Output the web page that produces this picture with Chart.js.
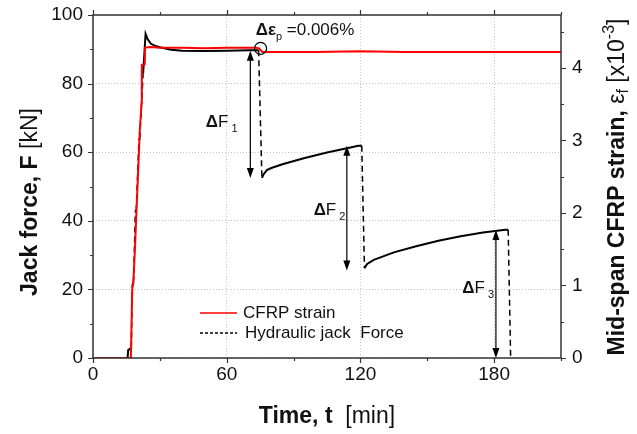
<!DOCTYPE html>
<html>
<head>
<meta charset="utf-8">
<script src="https://cdn.jsdelivr.net/npm/chart.js@4/dist/chart.umd.min.js"></script>
<style>
  html, body { margin: 0; padding: 0; background: #fff; }
  #wrap { width: 637px; height: 434px; }
</style>
</head>
<body>
<div id="wrap"><canvas id="c" width="637" height="434"></canvas></div>
<script>
// CFRP strain (right axis, x10^-3)
const strainTime = [0, 17.0, 17.6, 18.2, 18.8, 19.6, 20.3, 21.0, 21.8, 21.9, 23.2, 23.4, 26, 30, 40, 50, 60, 70, 73, 74.5, 76, 80, 100, 120, 140, 160, 180, 200, 210];
const strainVal = [0, 0, 0.94, 1.1, 1.49, 2.1, 2.6, 3.14, 3.52, 4.04, 4.05, 4.28, 4.29, 4.28, 4.28, 4.27, 4.28, 4.28, 4.28, 4.27, 4.22, 4.22, 4.22, 4.23, 4.22, 4.22, 4.22, 4.22, 4.22];

// Hydraulic jack force (left axis, kN)
const forceTime = [0, 15.5, 15.8, 17.2, 17.6, 18.2, 19, 19.4, 20.6, 21, 22.5, 23.6, 24.5, 26, 28, 30, 35, 40, 50, 60, 70, 74.3, 75.8, 76.6, 78, 80, 85, 95, 105, 115, 119, 120.6, 121.8, 123, 126, 135, 145, 155, 165, 175, 185, 186.3, 187.4];
const forceVal = [0, 0, 2.3, 3, 21, 22, 43, 43, 63.5, 64, 83, 94.5, 93, 91.6, 91, 90.6, 89.9, 89.6, 89.5, 89.6, 89.7, 89.7, 52.5, 53.6, 54.8, 55.4, 56.5, 58.3, 59.9, 61.3, 61.9, 61.9, 26.2, 27.4, 28.6, 30.8, 32.6, 34.2, 35.5, 36.6, 37.4, 37.4, 0];

const timeTicks = [0, 60, 120, 180];
const forceTicks = [0, 20, 40, 60, 80, 100];
const strainTicks = [0, 1, 2, 3, 4];

// annotations: [time, top force, bottom force]
const dropArrows = [[70.6, 89.6, 52.5], [113.9, 61.9, 25.5], [180.8, 37.3, 0]];
const dropLabels = [["1", 50.6, 67.3], ["2", 99, 41.7], ["3", 165.7, 19]];

const FONT = '"Liberation Sans", Arial, sans-serif';

function toPoints(xs, ys) {
  return xs.map((t, i) => ({ x: t, y: ys[i] }));
}

function drawRich(ctx, parts, x, y, align) {
  let total = 0;
  parts.forEach((p) => { ctx.font = p.font; total += ctx.measureText(p.text).width; });
  let cx = align === "center" ? x - total / 2 : x;
  parts.forEach((p) => {
    ctx.font = p.font;
    ctx.fillText(p.text, cx, y + (p.dy || 0));
    cx += ctx.measureText(p.text).width;
  });
}

function arrowHead(ctx, x, y, dir) {
  ctx.beginPath();
  ctx.moveTo(x, y);
  ctx.lineTo(x - 3.5, y - dir * 10);
  ctx.lineTo(x + 3.5, y - dir * 10);
  ctx.closePath();
  ctx.fill();
}

const overlay = {
  id: "overlay",
  afterDraw(chart) {
    const { ctx, chartArea: a, scales } = chart;
    const x = scales.x, y = scales.y, y2 = scales.y2;
    ctx.save();

    // frame
    ctx.strokeStyle = "#333";
    ctx.lineWidth = 1.5;
    ctx.strokeRect(a.left, a.top, a.right - a.left, a.bottom - a.top);

    // tick marks
    ctx.lineWidth = 1.2;
    ctx.beginPath();
    for (let t = 0; t <= 210; t += 30) {
      const px = Math.round(x.getPixelForValue(t)) + 0.5;
      const len = t % 60 === 0 ? 5 : 3;
      ctx.moveTo(px, a.bottom); ctx.lineTo(px, a.bottom + len);
      ctx.moveTo(px, a.top); ctx.lineTo(px, a.top - len);
    }
    for (let v = 0; v <= 100; v += 10) {
      const py = Math.round(y.getPixelForValue(v)) + 0.5;
      const len = v % 20 === 0 ? 5 : 3;
      ctx.moveTo(a.left, py); ctx.lineTo(a.left - len, py);
    }
    for (let v = 0; v <= 4.5; v += 0.5) {
      const py = Math.round(y2.getPixelForValue(v)) + 0.5;
      const len = v % 1 === 0 ? 5 : 3;
      ctx.moveTo(a.right, py); ctx.lineTo(a.right + len, py);
    }
    ctx.stroke();

    // drop arrows
    ctx.strokeStyle = "#000";
    ctx.fillStyle = "#000";
    ctx.lineWidth = 1.2;
    dropArrows.forEach(([t, f1, f2]) => {
      const px = x.getPixelForValue(t);
      const p1 = y.getPixelForValue(f1), p2 = y.getPixelForValue(f2);
      ctx.beginPath();
      ctx.moveTo(px, p1 + 6); ctx.lineTo(px, p2 - 6);
      ctx.stroke();
      arrowHead(ctx, px, p1, -1);
      arrowHead(ctx, px, p2, 1);
    });

    ctx.fillStyle = "#111";
    ctx.textBaseline = "alphabetic";
    dropLabels.forEach(([sub, t, f]) => {
      drawRich(ctx, [
        { text: "\u0394", font: "bold 17px " + FONT },
        { text: "F", font: "17px " + FONT },
        { text: " " + sub, font: "11px " + FONT, dy: 5 }
      ], x.getPixelForValue(t), y.getPixelForValue(f), "left");
    });

    // permanent strain circle + label
    const cxp = x.getPixelForValue(75.2), cyp = y2.getPixelForValue(4.27);
    ctx.strokeStyle = "#000";
    ctx.lineWidth = 1.2;
    ctx.beginPath();
    ctx.arc(cxp, cyp, 6, 0, Math.PI * 2);
    ctx.stroke();
    drawRich(ctx, [
      { text: "\u0394\u03b5", font: "bold 17px " + FONT },
      { text: "p", font: "11px " + FONT, dy: 5 },
      { text: " =0.006%", font: "17px " + FONT }
    ], x.getPixelForValue(73), y.getPixelForValue(94.2), "left");

    // legend
    const lx = 200, ly1 = 313, ly2 = 333;
    ctx.lineWidth = 1.5;
    ctx.strokeStyle = "#ff0000";
    ctx.beginPath(); ctx.moveTo(lx, ly1); ctx.lineTo(lx + 37, ly1); ctx.stroke();
    ctx.strokeStyle = "#000";
    ctx.setLineDash([3, 2]);
    ctx.beginPath(); ctx.moveTo(lx, ly2); ctx.lineTo(lx + 37, ly2); ctx.stroke();
    ctx.setLineDash([]);
    ctx.font = "17px " + FONT;
    ctx.textBaseline = "middle";
    ctx.fillText("CFRP strain", lx + 43, ly1);
    ctx.fillText("Hydraulic jack  Force", lx + 45, ly2);

    // axis titles
    ctx.textBaseline = "alphabetic";
    drawRich(ctx, [
      { text: "Time, t", font: "bold 23px " + FONT },
      { text: "  [min]", font: "23px " + FONT }
    ], 327, 423, "center");

    ctx.save();
    ctx.translate(37, 202);
    ctx.rotate(-Math.PI / 2);
    drawRich(ctx, [
      { text: "Jack force, F", font: "bold 23px " + FONT },
      { text: " [kN]", font: "23px " + FONT }
    ], 0, 0, "center");
    ctx.restore();

    ctx.save();
    ctx.translate(624, 187);
    ctx.rotate(-Math.PI / 2);
    drawRich(ctx, [
      { text: "Mid-span CFRP strain, ", font: "bold 23px " + FONT },
      { text: "\u03b5", font: "23px " + FONT },
      { text: "f", font: "16px " + FONT, dy: 4 },
      { text: " [x10", font: "23px " + FONT },
      { text: "-3", font: "16px " + FONT, dy: -10 },
      { text: "]", font: "23px " + FONT }
    ], 0, 0, "center");
    ctx.restore();

    ctx.restore();
  }
};

const tickFont = { family: FONT, size: 19 };

function noVerticalPad(s) {
  s.paddingTop = 0;
  s.paddingBottom = 0;
}

new Chart(document.getElementById("c"), {
  type: "line",
  data: {
    datasets: [
      {
        label: "CFRP strain",
        data: toPoints(strainTime, strainVal),
        yAxisID: "y2",
        borderColor: "#ff0000",
        borderWidth: 2,
        pointRadius: 0,
        tension: 0
      },
      {
        label: "Hydraulic jack  Force",
        data: toPoints(forceTime, forceVal),
        yAxisID: "y",
        borderColor: "#000000",
        borderWidth: 2,
        pointRadius: 0,
        tension: 0,
        segment: {
          borderDash: (c) => Math.abs(c.p1.parsed.y - c.p0.parsed.y) > 15 ? [6, 4] : undefined,
          borderWidth: (c) => Math.abs(c.p1.parsed.y - c.p0.parsed.y) > 15 ? 1.5 : undefined
        }
      }
    ]
  },
  options: {
    responsive: false,
    animation: false,
    layout: { padding: { top: 15, left: 0, right: 0, bottom: 0 } },
    plugins: { legend: { display: false }, tooltip: { enabled: false } },
    scales: {
      x: {
        type: "linear",
        min: 0,
        max: 210,
        afterFit: (s) => { s.height = 76; s.paddingLeft = 0; s.paddingRight = 0; },
        afterBuildTicks: (s) => { s.ticks = timeTicks.map((v) => ({ value: v })); },
        ticks: { font: tickFont, color: "#111", padding: 5, maxRotation: 0 },
        grid: { color: "#c4c4c4", lineWidth: 1, drawTicks: false },
        border: { display: false, dash: [1, 2] }
      },
      y: {
        type: "linear",
        position: "left",
        min: 0,
        max: 100,
        afterFit: (s) => { s.width = 93; noVerticalPad(s); },
        afterBuildTicks: (s) => { s.ticks = forceTicks.map((v) => ({ value: v })); },
        ticks: { font: tickFont, color: "#111", padding: 10 },
        grid: { color: "#c4c4c4", lineWidth: 1, drawTicks: false },
        border: { display: false, dash: [1, 2] }
      },
      y2: {
        type: "linear",
        position: "right",
        min: 0,
        max: 4.73,
        afterFit: (s) => { s.width = 76; noVerticalPad(s); },
        afterBuildTicks: (s) => { s.ticks = strainTicks.map((v) => ({ value: v })); },
        ticks: { font: tickFont, color: "#111", padding: 11 },
        grid: { drawOnChartArea: false, drawTicks: false },
        border: { display: false }
      }
    }
  },
  plugins: [overlay]
});
</script>
</body>
</html>
